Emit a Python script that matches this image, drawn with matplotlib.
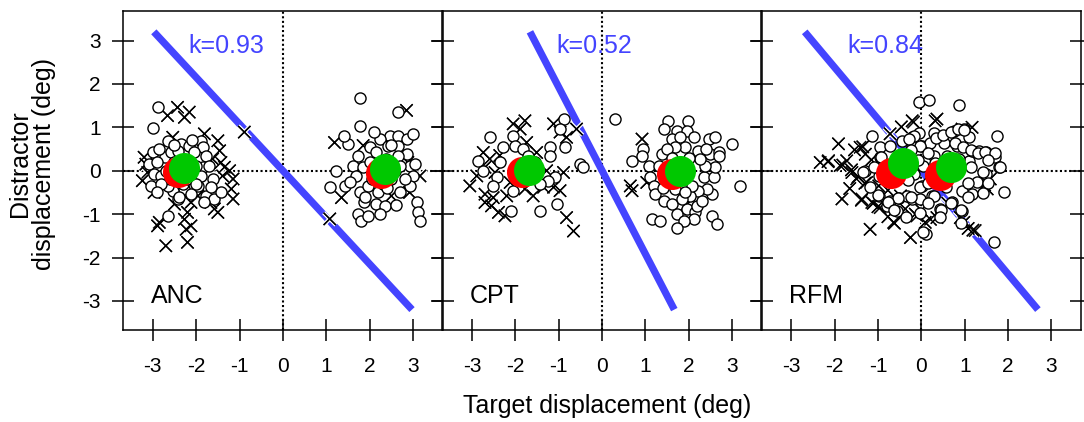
import matplotlib
matplotlib.use("Agg")
import matplotlib.pyplot as plt
import matplotlib.patheffects as pe

plt.rcParams['font.family'] = ['Liberation Sans', 'DejaVu Sans']

# ---------------- data ----------------
panel_names = ["ANC", "CPT", "RFM"]
k_values = [0.93, 0.52, 0.84]
k_labels = ["k=0.93", "k=0.52", "k=0.84"]
line_y_ends = [3.2, -3.2]

# ANC
anc_circ_x = [-2.87, -3.00, -2.66, -2.35, -2.16, -1.89, -1.85, -1.77, -3.00, -3.08, -2.97, -3.05, -2.81,
              -2.73, -2.58, -2.50, -1.85, -1.89, -1.96, -1.77, -1.58, -1.43, -2.27, -2.54, -2.66, -2.70,
              -2.85, -2.43, -2.04, -1.62, -2.66, -2.43, -2.12, -1.66, -1.81, -2.24, -2.20, -2.00, -2.60, -2.30,
              -2.90, -2.80, -2.20, -2.00, -1.70, -2.50, -2.10, -2.40, -2.90,
              1.78, 2.65, 1.78, 1.50, 1.73, 1.61, 1.23, 1.08, 1.42, 1.77, 1.88, 1.73, 1.81, 1.96, 2.15, 2.35,
              2.19, 2.46, 2.65, 2.85, 3.00, 2.23, 2.42, 2.65, 2.85, 2.92, 3.04, 3.00, 2.92, 3.08, 3.12, 3.16,
              2.69, 2.81, 2.58, 2.00, 1.85, 1.69, 1.54, 2.23, 1.96, 2.38, 2.15, 2.65, 1.40, 2.05, 2.30, 2.50,
              2.00, 2.20, 2.50, 2.70, 2.40, 1.90, 2.60, 2.10]
anc_circ_y = [1.46, 0.98, 0.69, 0.62, 0.58, 0.69, 0.54, 0.35, 0.42, 0.15, -0.08, -0.35, -0.12,
              0.31, 0.42, 0.19, 0.08, -0.12, -0.35, -0.58, -0.65, -0.50, -0.42, -0.46, -0.35, 0.00,
              0.50, 0.46, 0.42, -0.19, -1.04, -0.65, -0.54, -0.38, -0.73, -0.12, 0.20, 0.10, -0.20, -0.30,
              0.20, -0.30, -0.20, -0.30, 0.10, 0.60, 0.70, -0.60, -0.50,
              1.67, 1.36, 1.04, 0.62, 0.35, 0.12, 0.00, -0.38, -0.35, -0.50, -0.73, -1.00, -1.15, -1.04, -0.77, -0.81,
              -0.50, 0.81, 0.81, 0.73, 0.85, 0.73, 0.58, 0.58, 0.38, 0.12, 0.15, -0.12, -0.35, -0.73, -0.96, -1.15,
              -0.50, -0.19, 0.00, 0.54, 0.08, -0.12, -0.27, -1.00, -0.35, 0.27, 0.42, 0.35, 0.80, -0.20, -0.30, 0.60,
              0.20, 0.10, -0.20, 0.10, -0.40, -0.60, -0.80, 0.90]
anc_cross_x = [-2.66, -2.43, -2.16, -2.27, -2.54, -1.81, -1.50, -1.46, -1.35, -1.23, -1.15, -1.19, -1.15,
               -1.58, -1.50, -1.66, -2.12, -2.20, -2.27, -2.12, -2.23, -2.50, -2.85, -2.89, -2.70, -2.20,
               -3.20, -3.12, -2.97, -3.24, -0.89, -1.96, -1.43, -1.62, -2.27, -1.39, -3.16,
               1.19, 2.85, 1.35, 1.08, 2.50, 2.92, 3.16, 1.85, 2.88]
anc_cross_y = [1.27, 1.46, 1.35, 1.23, 0.77, 0.85, 0.69, 0.46, 0.08, 0.00, -0.19, -0.42, -0.65,
               -0.88, -0.96, -0.73, -0.73, -0.96, -1.12, -1.27, -1.35, -0.77, -1.19, -1.27, -1.73, -1.65,
               0.31, -0.04, -0.50, -0.23, 0.89, -0.58, 0.19, 0.27, 0.19, -0.12, 0.15,
               0.65, 1.39, -0.62, -1.11, -0.58, -0.50, -0.12, 0.58, 0.19]
anc_red_x = [-2.43, 2.25]
anc_red_y = [-0.04, -0.05]
anc_green_x = [-2.27, 2.36]
anc_green_y = [0.06, 0.04]

# CPT
cpt_circ_x = [-2.59, -2.86, -2.74, -2.43, -2.28, -2.05, -2.01, -1.82, -1.70, -1.20, -1.20, -0.89, -0.97,
              -0.86, -0.51, -0.43, -1.09, -1.24, -1.43, -2.05, -2.09, -1.43, -1.05, -2.36, -2.51, -1.55,
              0.30, 1.53, 1.99, 1.42, 1.72, 1.96, 2.11, 1.61, 1.80, 2.46, 2.61, 2.99, 1.92, 1.69, 1.38, 2.22,
              2.49, 2.69, 0.95, 0.69, 0.92, 1.07, 1.11, 1.19, 1.22, 1.42, 1.61, 1.72, 1.96, 2.15, 2.11, 1.88,
              1.72, 1.15, 1.34, 2.53, 2.65, 3.19, 2.53, 2.42, 2.22, 2.34, 2.57, 2.61, 2.69, 2.38, 2.26, 2.03,
              1.84, 1.69, 1.53, 1.49, 2.19, 2.07, 1.30, 1.50, 2.00, 2.30, 1.40, 1.90, 2.40, 1.60]
cpt_circ_y = [0.77, 0.23, 0.00, -0.15, 0.54, 0.81, 0.58, 0.50, 0.35, 0.54, 0.35, 1.19, 0.96,
              0.54, 0.15, 0.08, -0.15, -0.23, -0.31, -0.46, -0.92, -0.92, -0.77, 0.19, -0.35, 0.19,
              1.19, 1.15, 1.15, 0.96, 0.92, 0.92, 0.77, 0.73, 0.77, 0.73, 0.77, 0.62, 0.54, 0.54, 0.38, 0.46,
              0.38, 0.42, 0.50, 0.23, 0.35, 0.12, -0.15, -0.35, -0.54, -0.69, -0.77, -1.00, -0.88, -0.96, -1.12, -1.15,
              -1.31, -1.12, -1.15, -1.04, -1.23, -0.35, -0.54, -0.42, -0.46, -0.15, -0.15, 0.08, 0.35, 0.12, 0.27, -0.58,
              -0.65, -0.42, -0.27, 0.00, -0.81, -0.35, 0.10, 0.50, 0.30, -0.70, -0.40, -0.50, 0.50, 0.30]
cpt_cross_x = [-2.05, -1.78, -1.89, -1.12, -0.97, -0.82, -0.59, -2.74, -2.59, -2.36, -2.47, -2.89, -3.05,
               -2.70, -2.55, -2.39, -2.24, -2.70, -2.51, -2.20, -1.78, -1.59, -1.35, -1.12, -0.97, -0.82,
               -0.66, -0.89, -1.28, -1.51, -1.74, -2.12, -2.70,
               0.92, 0.65, 0.69, 1.03, 1.92]
cpt_cross_y = [1.08, 1.15, 0.96, 1.08, 0.89, 0.77, 0.96, 0.42, 0.27, 0.35, -0.04, -0.12, -0.35,
               -0.54, -0.81, -0.96, -1.04, -0.73, -0.62, -0.58, -0.42, -0.58, -0.38, -0.38, -0.46, -1.08,
               -1.39, -0.04, 0.00, 0.42, 0.65, -0.27, 0.08,
               0.73, -0.35, -0.46, -0.27, -0.81]
cpt_red_x = [-1.85, 1.61]
cpt_red_y = [-0.04, -0.08]
cpt_green_x = [-1.68, 1.80]
cpt_green_y = [0.02, 0.00]

# RFM
rfm_circ_x = [-1.14, -0.06, 0.17, -0.95, -0.72, -0.45, -0.21, -0.06, 0.02, 0.21, 0.29, -1.29, -0.98,
              -0.98, -0.72, -0.56, -0.79, -0.52, -0.21, -0.02, 0.02, 0.25, 0.10, -0.21, -0.95,
              0.86, 1.75, 1.90, 1.67, -0.18, 0.75, 0.98, 1.09, 1.32, 1.48, 1.71, 1.79, 1.48, 1.29, 1.17,
              0.94, 0.94, 0.71, 0.44, 0.29, -0.33, 0.05, 0.05, -0.18, 0.52, 0.82, 1.09, 1.17, 0.59,
              0.29, -0.02, -0.29, 0.35, 0.50, 0.69, 0.84, 0.99, 0.77, 0.96, 1.15, 1.30, 1.46, 1.69, 1.81,
              1.42, 1.54, 1.42, 1.08, 0.92, 0.69, 0.46, 0.15, -0.04, -0.23, -0.54, -0.77, -1.00, -1.19,
              -0.62, -0.35, -0.04, 0.42, 0.92, -0.31, 0.15, 0.57, 1.08, 1.15, 0.15, -0.08, -0.23, 0.31,
              -0.92, -0.73, -1.08, 0.88, 1.54, -1.35]
rfm_circ_y = [0.81, 1.58, 1.64, 0.54, 0.58, 0.69, 0.77, 0.88, 0.58, 0.65, 0.88, 0.00, -0.12,
              -0.58, -0.69, -0.92, -0.81, -0.62, -0.65, -0.65, -0.35, -0.58, -1.46, 0.58, 0.31,
              1.51, 0.81, -0.50, -1.65, 0.81, 0.92, 0.96, 0.77, 0.46, 0.42, 0.31, 0.08, -0.08, -0.27, -0.54,
              -0.46, -0.92, -0.73, -0.88, -0.58, -0.58, -1.42, 0.12, -0.08, 0.65, 0.58, 0.23, 0.46, 0.35,
              0.35, 0.58, 0.73, 0.75, 0.82, 0.90, 0.97, 0.94, 0.63, 0.55, 0.48, 0.40, 0.44, 0.40, 0.09,
              -0.02, -0.29, -0.52, -0.60, -0.91, -0.75, -0.91, -0.75, -0.37, -0.60, -0.64, -0.71, -0.56, -0.37,
              -0.91, -1.06, -0.98, -1.06, -1.21, -0.21, -0.29, -0.37, -0.29, 0.09, 0.40, 0.25, 0.48, 0.17,
              0.32, 0.13, 0.09, 0.28, 0.25, -0.02]
rfm_cross_x = [-1.91, -2.33, -2.14, -1.87, -1.72, -1.60, -1.41, -1.29, -1.49, -1.26, -1.83, -1.37,
               -1.14, -0.95, -1.18, -0.64, -0.25, -0.72, -0.18, 0.32, -0.48, -0.10, 0.21, -0.98,
               -0.21, 0.36, 1.17, 0.94, 0.09, 0.36, 0.98, 1.24, 0.90, 1.52, 1.59, -0.37, -0.14,
               -2.15, -1.81, -1.54, -1.35, -1.61, -1.46, -1.30, -1.38, -1.11, -0.77, -0.62, 1.19, 1.08,
               1.46, -0.77, -1.00, 0.00, 0.61, -0.46, -1.15, -1.65]
rfm_cross_y = [0.62, 0.19, 0.23, 0.12, 0.23, -0.04, 0.54, 0.38, -0.19, -0.27, -0.65, -0.65,
               -0.73, -0.85, -1.35, -1.19, -1.54, 0.85, 1.12, 1.15, -0.58, -1.04, -1.12, -0.35,
               1.15, 1.19, 1.00, 0.96, -1.19, -1.08, -1.19, -1.38, -1.08, -0.42, -0.19, -0.88, -1.00,
               0.21, 0.13, 0.48, 0.55, 0.02, -0.14, -0.29, -0.68, -0.75, -1.06, -1.21, -1.37, -1.33,
               -0.33, -0.45, -0.83, -0.91, -0.75, 1.01, 0.25, -0.41]
rfm_red_x = [-0.71, 0.44]
rfm_red_y = [-0.06, -0.10]
rfm_green_x = [-0.42, 0.69]
rfm_green_y = [0.18, 0.09]

circ_x = [anc_circ_x, cpt_circ_x, rfm_circ_x]
circ_y = [anc_circ_y, cpt_circ_y, rfm_circ_y]
cross_x = [anc_cross_x, cpt_cross_x, rfm_cross_x]
cross_y = [anc_cross_y, cpt_cross_y, rfm_cross_y]
red_x = [anc_red_x, cpt_red_x, rfm_red_x]
red_y = [anc_red_y, cpt_red_y, rfm_red_y]
green_x = [anc_green_x, cpt_green_x, rfm_green_x]
green_y = [anc_green_y, cpt_green_y, rfm_green_y]
k_text_x = [-2.19, -1.05, -1.70]

xticks = [-3, -2, -1, 0, 1, 2, 3]
yticks = [-3, -2, -1, 0, 1, 2, 3]

# ---------------- figure ----------------
W, H = 1084, 422
fig = plt.figure(figsize=(W / 100, H / 100), dpi=100)
lefts = [123.3, 442.5, 761.7]
bottom = 1 - 330 / H
height = 319 / H
width = 318.8 / W

BLUE = '#4444ff'
axes = []
for i in range(3):
    ax = fig.add_axes([lefts[i] / W, bottom, width, height])
    axes.append(ax)
    ax.set_xlim(-3.68, 3.67)
    ax.set_ylim(-3.67, 3.68)
    ax.axhline(0, color='k', lw=1.5, ls=(0, (1, 1.2)), zorder=1)
    ax.axvline(0, color='k', lw=1.5, ls=(0, (1, 1.2)), zorder=1)
    k = k_values[i]
    lx = [-k * y for y in line_y_ends]
    ax.plot(lx, line_y_ends, color=BLUE, lw=5.2, solid_capstyle='butt', zorder=2)
    ax.scatter(cross_x[i], cross_y[i], marker='x', s=78, c='k', linewidths=1.0, zorder=3,
               path_effects=[pe.withStroke(linewidth=3.0, foreground='white'), pe.Normal()])
    ax.scatter(circ_x[i], circ_y[i], marker='o', s=64, facecolors='white', edgecolors='k',
               linewidths=1.0, zorder=4)
    ax.scatter(red_x[i], red_y[i], marker='o', s=500, c='#ff0000', linewidths=0, zorder=5)
    ax.scatter(green_x[i], green_y[i], marker='o', s=500, c='#00c800', linewidths=0, zorder=6)
    ax.text(k_text_x[i], 2.72, k_labels[i], color=BLUE, fontsize=18, ha='left', va='baseline', zorder=7)
    ax.text(-3.05, -3.04, panel_names[i], color='k', fontsize=18, ha='left', va='baseline', zorder=7)
    ax.set_xticks(xticks)
    ax.set_yticks(yticks)
    ax.set_xticklabels([str(t) for t in xticks])
    for s in ax.spines.values():
        s.set_linewidth(1.1)
    ax.tick_params(axis='both', which='major', direction='inout', length=16.5, width=1.1,
                   labelsize=15, top=False, right=True, left=True, bottom=True)
    ax.tick_params(axis='x', pad=11)
    ax.tick_params(axis='y', pad=8)
    if i == 0:
        ax.set_yticklabels([str(t) for t in yticks])
    else:
        ax.tick_params(axis='y', labelleft=False)

axes[0].set_ylabel("Distractor\ndisplacement (deg)", fontsize=18, linespacing=1.0)
axes[0].yaxis.set_label_coords(-0.21, 0.52)
fig.text(607.5 / W, 0.022, "Target displacement (deg)", fontsize=18, ha='center', va='baseline')

fig.savefig("out.png", dpi=100)
